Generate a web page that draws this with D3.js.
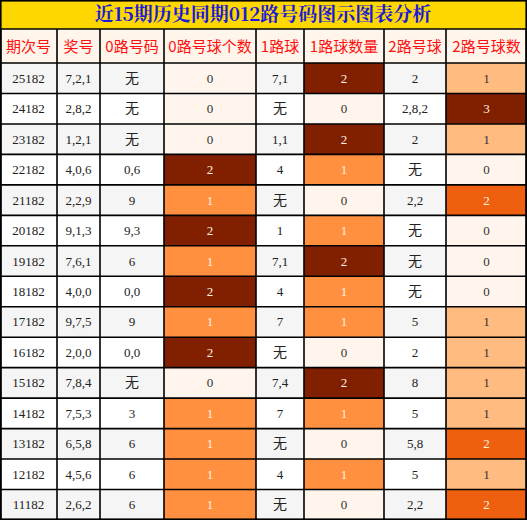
<!DOCTYPE html><html><head><meta charset="utf-8"><script src="https://cdn.jsdelivr.net/npm/d3@7"></script>
<style>body{margin:0;background:#fff}</style></head><body><svg id="c" width="527" height="520"></svg><script>
const title="近15期历史同期012路号码图示图表分析";
const headers=["期次号","奖号","0路号码","0路号球个数","1路球","1路球数量","2路号球","2路号球数"];
const issues=["25182","24182","23182","22182","21182","20182","19182","18182","17182","16182","15182","14182","13182","12182","11182"];
const nums=["7,2,1","2,8,2","1,2,1","4,0,6","2,2,9","9,1,3","7,6,1","4,0,0","9,7,5","2,0,0","7,8,4","7,5,3","6,5,8","4,5,6","2,6,2"];
const zero=["无","无","无","0,6","9","9,3","6","0,0","9","0,0","无","3","6","6","6"];
const zeroN=[0,0,0,2,1,2,1,2,1,2,0,1,1,1,1];
const one=["7,1","无","1,1","4","无","1","7,1","4","7","无","7,4","7","无","4","无"];
const oneN=[2,0,2,1,0,1,2,1,1,0,2,1,0,1,0];
const two=["2","2,8,2","2","无","2,2","无","无","无","5","2","8","5","5,8","5","2,2"];
const twoN=[1,3,1,0,2,0,0,0,1,1,1,1,2,1,2];
const edges=[0,57,100,164,256,304,384,446,527];
const svg=d3.select("#c");
const x=d3.scaleOrdinal().domain(d3.range(9)).range(edges);
const y=d3.scaleLinear().domain([0,15]).range([63,520]);
const f="'Liberation Serif','DejaVu Serif',serif";
svg.append("rect").attr("width",527).attr("height",29).attr("fill","#ffd700");
svg.append("text").attr("x",263).attr("y",21).attr("text-anchor","middle").attr("font-family","'Noto Serif CJK SC','Noto Sans CJK SC',serif").attr("font-weight","bold").attr("font-size",19).attr("fill","#1a1ad8").text(title);
headers.forEach((h,i)=>{svg.append("rect").attr("x",x(i)).attr("y",29).attr("width",x(i+1)-x(i)).attr("height",34).attr("fill","#fff5ea");
svg.append("text").attr("x",(x(i)+x(i+1))/2).attr("y",52).attr("text-anchor","middle").attr("font-family","'Noto Sans CJK SC',serif").attr("font-size",15).attr("fill","#ff1010").text(h);});
const c012=v=>["#fff5ec","#ff9040","#802000"][v];
const c2=v=>["#fff5ec","#ffbb80","#ee6010","#802000"][v];
issues.forEach((d,r)=>{
 const bg=r%2?"#ffffff":"#f5f5f5";
 const cells=[[d,bg,"#222"],[nums[r],bg,"#222"],[zero[r],bg,"#222"],[zeroN[r],c012(zeroN[r]),zeroN[r]?"#fff0e0":"#333"],[one[r],bg,"#222"],[oneN[r],c012(oneN[r]),oneN[r]?"#fff0e0":"#333"],[two[r],bg,"#222"],[twoN[r],c2(twoN[r]),twoN[r]>1?"#fff0e0":"#333"]];
 cells.forEach((c,i)=>{svg.append("rect").attr("x",x(i)).attr("y",y(r)).attr("width",x(i+1)-x(i)).attr("height",y(r+1)-y(r)).attr("fill",c[1]);
 svg.append("text").attr("x",(x(i)+x(i+1))/2).attr("y",(y(r)+y(r+1))/2+4.5).attr("text-anchor","middle").attr("font-family",c[0]==="无"?"'Noto Sans CJK SC',sans-serif":f).attr("font-size",c[0]==="无"?14:13).attr("fill",c[2]).text(c[0]);});
});
const g=svg.append("g").attr("stroke","#000").attr("stroke-width",1.6);
[29,...d3.range(16).map(y)].forEach(v=>g.append("line").attr("x1",0).attr("x2",527).attr("y1",v).attr("y2",v));
edges.forEach((e,i)=>{const xx=i==0?0.8:i==8?526.2:e;g.append("line").attr("x1",xx).attr("x2",xx).attr("y1",29).attr("y2",520);});
g.append("rect").attr("x",0.8).attr("y",0.8).attr("width",525.4).attr("height",518.4).attr("fill","none");
</script></body></html>
